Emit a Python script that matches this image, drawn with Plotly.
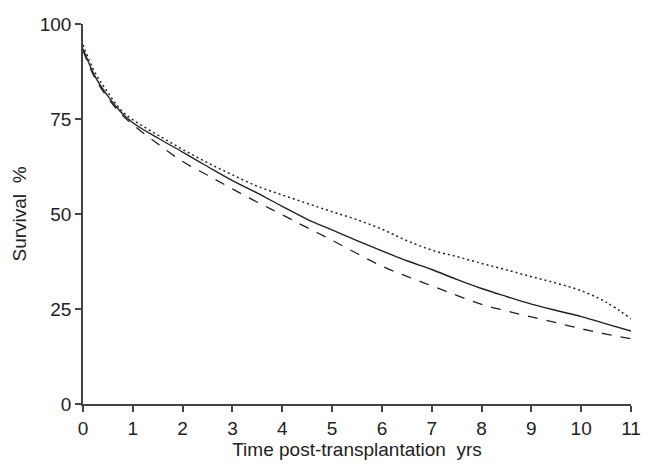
import plotly.graph_objects as go

years = [0, 0.25, 0.5, 0.75, 1, 1.5, 2, 2.5, 3, 3.5, 4, 4.5, 5, 5.5, 6, 6.5, 7, 7.5, 8, 8.5, 9, 9.5, 10, 10.5, 11]
solid = [93.5, 86, 81, 77, 74, 70, 66.3, 62.5, 58.8, 55.5, 52, 48.6, 45.8, 43, 40.3, 37.7, 35.4, 32.8, 30.4, 28.3, 26.3, 24.6, 23.0, 21.1, 19.2]
dotted = [94.5, 87, 82, 77.5, 74.8, 70.8, 67, 63.5, 60.3, 57.3, 55, 52.8, 50.6, 48.5, 46, 43, 40.5, 38.8, 37, 35.3, 33.5, 31.8, 29.8, 26.8, 22.4]
dashed = [93, 85.5, 80.5, 76.5, 73.5, 68.5, 63.8, 60.2, 56.6, 53.1, 49.8, 46.4, 43.1, 39.6, 36.3, 33.6, 31.1, 28.6, 26.2, 24.5, 22.9, 21.4, 19.8, 18.4, 17.2]
x_ticks = list(range(0, 12))
y_ticks = [0, 25, 50, 75, 100]

FONT = "Liberation Sans, Arial, sans-serif"
INK = "#222"
AXIS = "#444"

fig = go.Figure()
fig.add_trace(go.Scatter(x=years, y=dotted, mode="lines", line=dict(color=INK, width=1.5, dash="2px,3px"),
                         line_shape="spline", showlegend=False))
fig.add_trace(go.Scatter(x=years, y=dashed, mode="lines", line=dict(color=INK, width=1.3, dash="10px,9px"),
                         line_shape="spline", showlegend=False))
fig.add_trace(go.Scatter(x=years, y=solid, mode="lines", line=dict(color=INK, width=1.4),
                         line_shape="spline", showlegend=False))

fig.update_layout(
    width=650, height=467,
    margin=dict(l=83, r=9, t=24, b=63),
    paper_bgcolor="white", plot_bgcolor="white",
    font=dict(family=FONT, size=19, color=INK),
)
fig.update_xaxes(
    range=[0, 11], tickvals=x_ticks, ticktext=[str(v) for v in x_ticks],
    showline=True, linecolor=AXIS, linewidth=1.5, showgrid=False, zeroline=False,
    ticks="outside", ticklen=6, tickcolor=AXIS, tickwidth=1.5, ticklabeloverflow="allow",
    title=dict(text="Time post-transplantation  yrs", standoff=5, font=dict(size=19)),
)
fig.update_yaxes(
    range=[0, 100], tickvals=y_ticks, ticktext=[str(v) for v in y_ticks],
    showline=True, linecolor=AXIS, linewidth=1.5, showgrid=False, zeroline=False,
    ticks="outside", ticklen=6, tickcolor=AXIS, tickwidth=1.5,
    title=dict(text="Survival  %", standoff=8, font=dict(size=19)),
)
fig.write_html("out.html", config={"displayModeBar": False},
               post_script="document.body.style.margin='0';document.body.style.overflow='hidden';")
